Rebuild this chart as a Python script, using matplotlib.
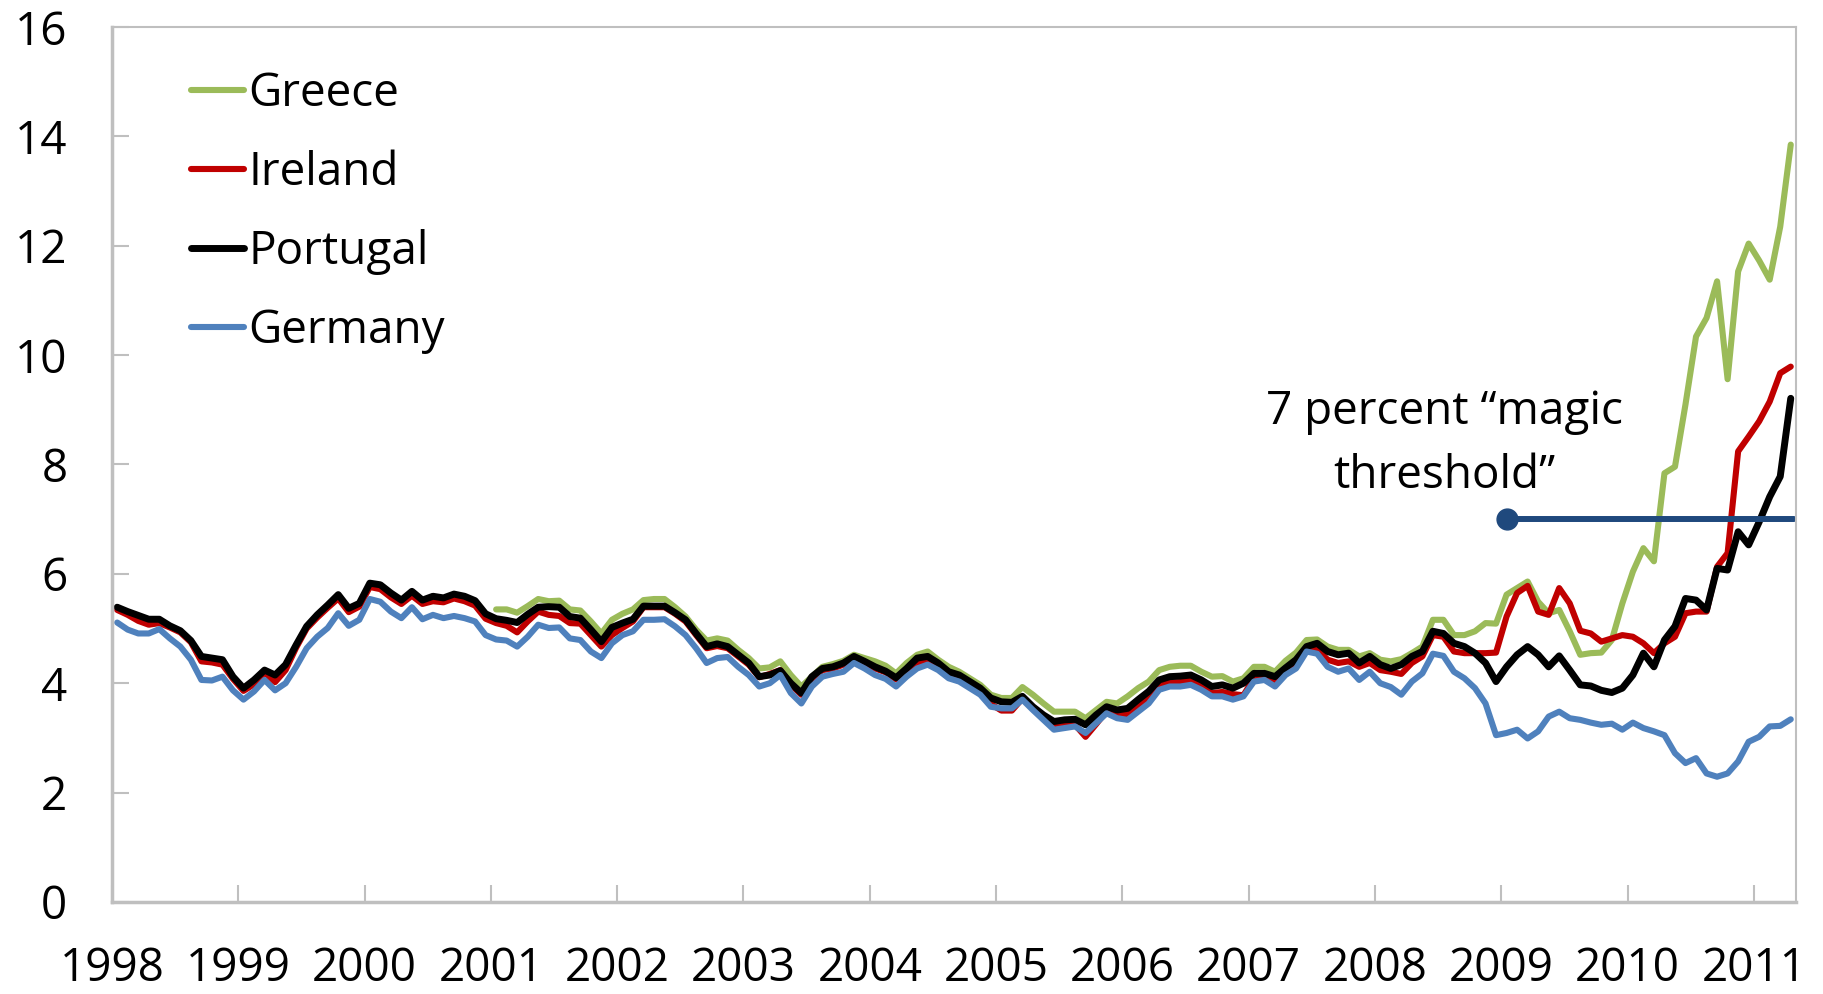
import matplotlib.pyplot as plt
import numpy as np

plt.rcParams['font.family'] = ['Open Sans', 'DejaVu Sans']

# 10-year government bond yields, monthly, Jan 1998 - Apr 2011 (percent)
years = [str(y) for y in range(1998, 2012)]
greece_start = 36  # Greece joins the series in Jan 2001

greece = [
    5.35, 5.35, 5.29, 5.41,
    5.54, 5.50, 5.51, 5.35, 5.33, 5.13, 4.91, 5.16, 5.27, 5.35,
    5.52, 5.54, 5.54, 5.39, 5.22, 4.98, 4.78, 4.82, 4.78, 4.61,
    4.46, 4.27, 4.29, 4.40, 4.15, 3.94, 4.12, 4.30, 4.35, 4.41,
    4.52, 4.46, 4.40, 4.32, 4.18, 4.37, 4.52, 4.58, 4.43, 4.30,
    4.21, 4.09, 3.97, 3.79, 3.73, 3.73, 3.93, 3.79, 3.63, 3.48,
    3.48, 3.48, 3.36, 3.51, 3.66, 3.63, 3.76, 3.91, 4.03, 4.24,
    4.30, 4.32, 4.32, 4.21, 4.12, 4.13, 4.03, 4.09, 4.30, 4.30,
    4.21, 4.41, 4.56, 4.79, 4.80, 4.67, 4.61, 4.61, 4.49, 4.55,
    4.43, 4.40, 4.44, 4.55, 4.67, 5.16, 5.16, 4.88, 4.88, 4.95,
    5.10, 5.09, 5.62, 5.74, 5.86, 5.49, 5.28, 5.34, 4.95, 4.52,
    4.55, 4.56, 4.79, 5.46, 6.04, 6.47, 6.23, 7.84, 7.96, 9.10,
    10.34, 10.68, 11.35, 9.56, 11.53, 12.04, 11.73, 11.38, 12.35, 13.85,
]

ireland = [
    5.34, 5.25, 5.14, 5.07, 5.10, 5.02, 4.93, 4.75, 4.40, 4.38,
    4.34, 4.08, 3.86, 3.98, 4.20, 4.02, 4.24, 4.65, 5.00, 5.20,
    5.38, 5.55, 5.30, 5.40, 5.76, 5.72, 5.57, 5.45, 5.60, 5.45,
    5.50, 5.48, 5.55, 5.50, 5.42, 5.18, 5.10, 5.05, 4.93, 5.13,
    5.31, 5.25, 5.23, 5.10, 5.09, 4.88, 4.67, 4.88, 5.01, 5.13,
    5.39, 5.39, 5.39, 5.27, 5.13, 4.88, 4.64, 4.68, 4.64, 4.49,
    4.34, 4.11, 4.17, 4.24, 3.97, 3.79, 4.07, 4.24, 4.27, 4.34,
    4.46, 4.37, 4.27, 4.20, 4.07, 4.20, 4.36, 4.41, 4.30, 4.15,
    4.08, 3.96, 3.84, 3.62, 3.50, 3.50, 3.72, 3.54, 3.37, 3.20,
    3.22, 3.24, 3.02, 3.25, 3.49, 3.42, 3.42, 3.57, 3.72, 3.95,
    4.01, 4.02, 4.05, 3.95, 3.82, 3.84, 3.80, 3.78, 4.09, 4.10,
    4.00, 4.24, 4.37, 4.64, 4.62, 4.43, 4.37, 4.40, 4.30, 4.37,
    4.24, 4.21, 4.17, 4.37, 4.49, 4.88, 4.85, 4.58, 4.55, 4.55,
    4.55, 4.56, 5.22, 5.65, 5.78, 5.31, 5.25, 5.74, 5.46, 4.96,
    4.91, 4.76, 4.82, 4.88, 4.85, 4.73, 4.55, 4.73, 4.85, 5.28,
    5.31, 5.31, 6.13, 6.38, 8.24, 8.51, 8.79, 9.15, 9.67, 9.79,
]

portugal = [
    5.39, 5.31, 5.24, 5.17, 5.17, 5.05, 4.96, 4.78, 4.49, 4.46,
    4.43, 4.12, 3.91, 4.06, 4.24, 4.15, 4.34, 4.70, 5.04, 5.25,
    5.43, 5.62, 5.37, 5.46, 5.83, 5.80, 5.65, 5.52, 5.68, 5.52,
    5.59, 5.56, 5.63, 5.59, 5.51, 5.27, 5.18, 5.15, 5.11, 5.26,
    5.39, 5.40, 5.39, 5.22, 5.19, 4.98, 4.76, 5.02, 5.10, 5.17,
    5.41, 5.41, 5.41, 5.29, 5.16, 4.91, 4.67, 4.72, 4.67, 4.52,
    4.37, 4.12, 4.15, 4.23, 4.00, 3.82, 4.12, 4.27, 4.30, 4.37,
    4.49, 4.40, 4.30, 4.22, 4.10, 4.27, 4.46, 4.49, 4.37, 4.21,
    4.15, 4.03, 3.91, 3.73, 3.66, 3.65, 3.76, 3.57, 3.42, 3.30,
    3.33, 3.34, 3.24, 3.42, 3.57, 3.51, 3.54, 3.70, 3.85, 4.06,
    4.12, 4.13, 4.15, 4.06, 3.94, 3.97, 3.91, 4.00, 4.18, 4.18,
    4.12, 4.28, 4.43, 4.67, 4.73, 4.58, 4.52, 4.55, 4.37, 4.49,
    4.34, 4.27, 4.34, 4.49, 4.58, 4.95, 4.91, 4.73, 4.67, 4.55,
    4.37, 4.03, 4.30, 4.52, 4.67, 4.52, 4.30, 4.50, 4.24, 3.97,
    3.95, 3.87, 3.83, 3.91, 4.15, 4.55, 4.30, 4.79, 5.04, 5.55,
    5.52, 5.34, 6.10, 6.07, 6.77, 6.53, 6.95, 7.41, 7.78, 9.21,
]

germany = [
    5.11, 4.98, 4.91, 4.91, 4.99, 4.82, 4.67, 4.43, 4.06, 4.05,
    4.12, 3.87, 3.70, 3.85, 4.06, 3.87, 4.00, 4.30, 4.64, 4.85,
    5.01, 5.28, 5.05, 5.16, 5.54, 5.49, 5.31, 5.19, 5.39, 5.17,
    5.25, 5.19, 5.23, 5.19, 5.13, 4.88, 4.80, 4.78, 4.67, 4.85,
    5.07, 5.01, 5.02, 4.82, 4.79, 4.58, 4.46, 4.73, 4.88, 4.95,
    5.16, 5.16, 5.17, 5.04, 4.88, 4.64, 4.37, 4.46, 4.48, 4.30,
    4.15, 3.94, 4.00, 4.15, 3.82, 3.63, 3.94, 4.12, 4.17, 4.21,
    4.37, 4.27, 4.15, 4.08, 3.94, 4.12, 4.27, 4.34, 4.24, 4.09,
    4.03, 3.91, 3.79, 3.57, 3.54, 3.54, 3.70, 3.51, 3.33, 3.15,
    3.18, 3.21, 3.09, 3.27, 3.45, 3.36, 3.33, 3.48, 3.63, 3.88,
    3.94, 3.94, 3.97, 3.88, 3.76, 3.76, 3.70, 3.76, 4.03, 4.06,
    3.94, 4.15, 4.27, 4.58, 4.54, 4.30, 4.21, 4.27, 4.06, 4.21,
    4.00, 3.93, 3.79, 4.03, 4.18, 4.54, 4.50, 4.21, 4.09, 3.91,
    3.63, 3.05, 3.09, 3.15, 2.99, 3.12, 3.39, 3.48, 3.36, 3.33,
    3.28, 3.24, 3.26, 3.15, 3.28, 3.18, 3.12, 3.05, 2.72, 2.54,
    2.63, 2.35, 2.29, 2.35, 2.57, 2.93, 3.02, 3.21, 3.22, 3.34,
]

threshold = 7.0
threshold_start = 132  # Jan 2009

n = len(portugal)
x = np.arange(n) + 0.5  # each month plotted at its middle
x_gr = x[greece_start:]

fig = plt.figure(figsize=(18.23, 9.94), dpi=100)
ax = fig.add_axes([0.0614, 0.0926, 0.9238, 0.8802])

style = dict(solid_joinstyle="round", solid_capstyle="round")
ax.plot(x_gr, greece, color="#9BBB59", lw=4.4, label="Greece", **style)
ax.plot(x, ireland, color="#C00000", lw=4.4, label="Ireland", **style)
ax.plot(x, portugal, color="black", lw=5.0, label="Portugal", **style)
ax.plot(x, germany, color="#4F81BD", lw=4.4, label="Germany", **style)

# threshold marker and line
ax.plot([x[threshold_start], n - 0.2], [threshold, threshold],
        color="#1F497D", lw=4.3, solid_capstyle="round")
ax.plot([x[threshold_start]], [threshold], "o", color="#1F497D", ms=15)
ax.text(126.6, 8.37, "7 percent “magic\nthreshold”", ha="center", va="center",
        fontsize=33, linespacing=1.52)

ax.set_xlim(0, n)
ax.set_ylim(0, 16)
ax.set_xticks(np.arange(0, n, 12))
ax.set_xticklabels(years)
ax.set_yticks(np.arange(0, 17, 2))

for side, sp in ax.spines.items():
    sp.set_color("#bfbfbf")
    sp.set_linewidth(2.5 if side in ("left", "bottom") else 1.5)

ax.tick_params(axis="both", direction="in", length=12, width=1.5,
               color="#bfbfbf", labelsize=33)
ax.tick_params(axis="y", pad=32)
ax.tick_params(axis="x", pad=32)

ax.legend(loc="upper left", bbox_to_anchor=(0.047, 0.950), frameon=False,
          fontsize=33, handlelength=1.15, handletextpad=0.1,
          labelspacing=0.72, borderpad=0, borderaxespad=0)

fig.savefig("out.png", dpi=100)
